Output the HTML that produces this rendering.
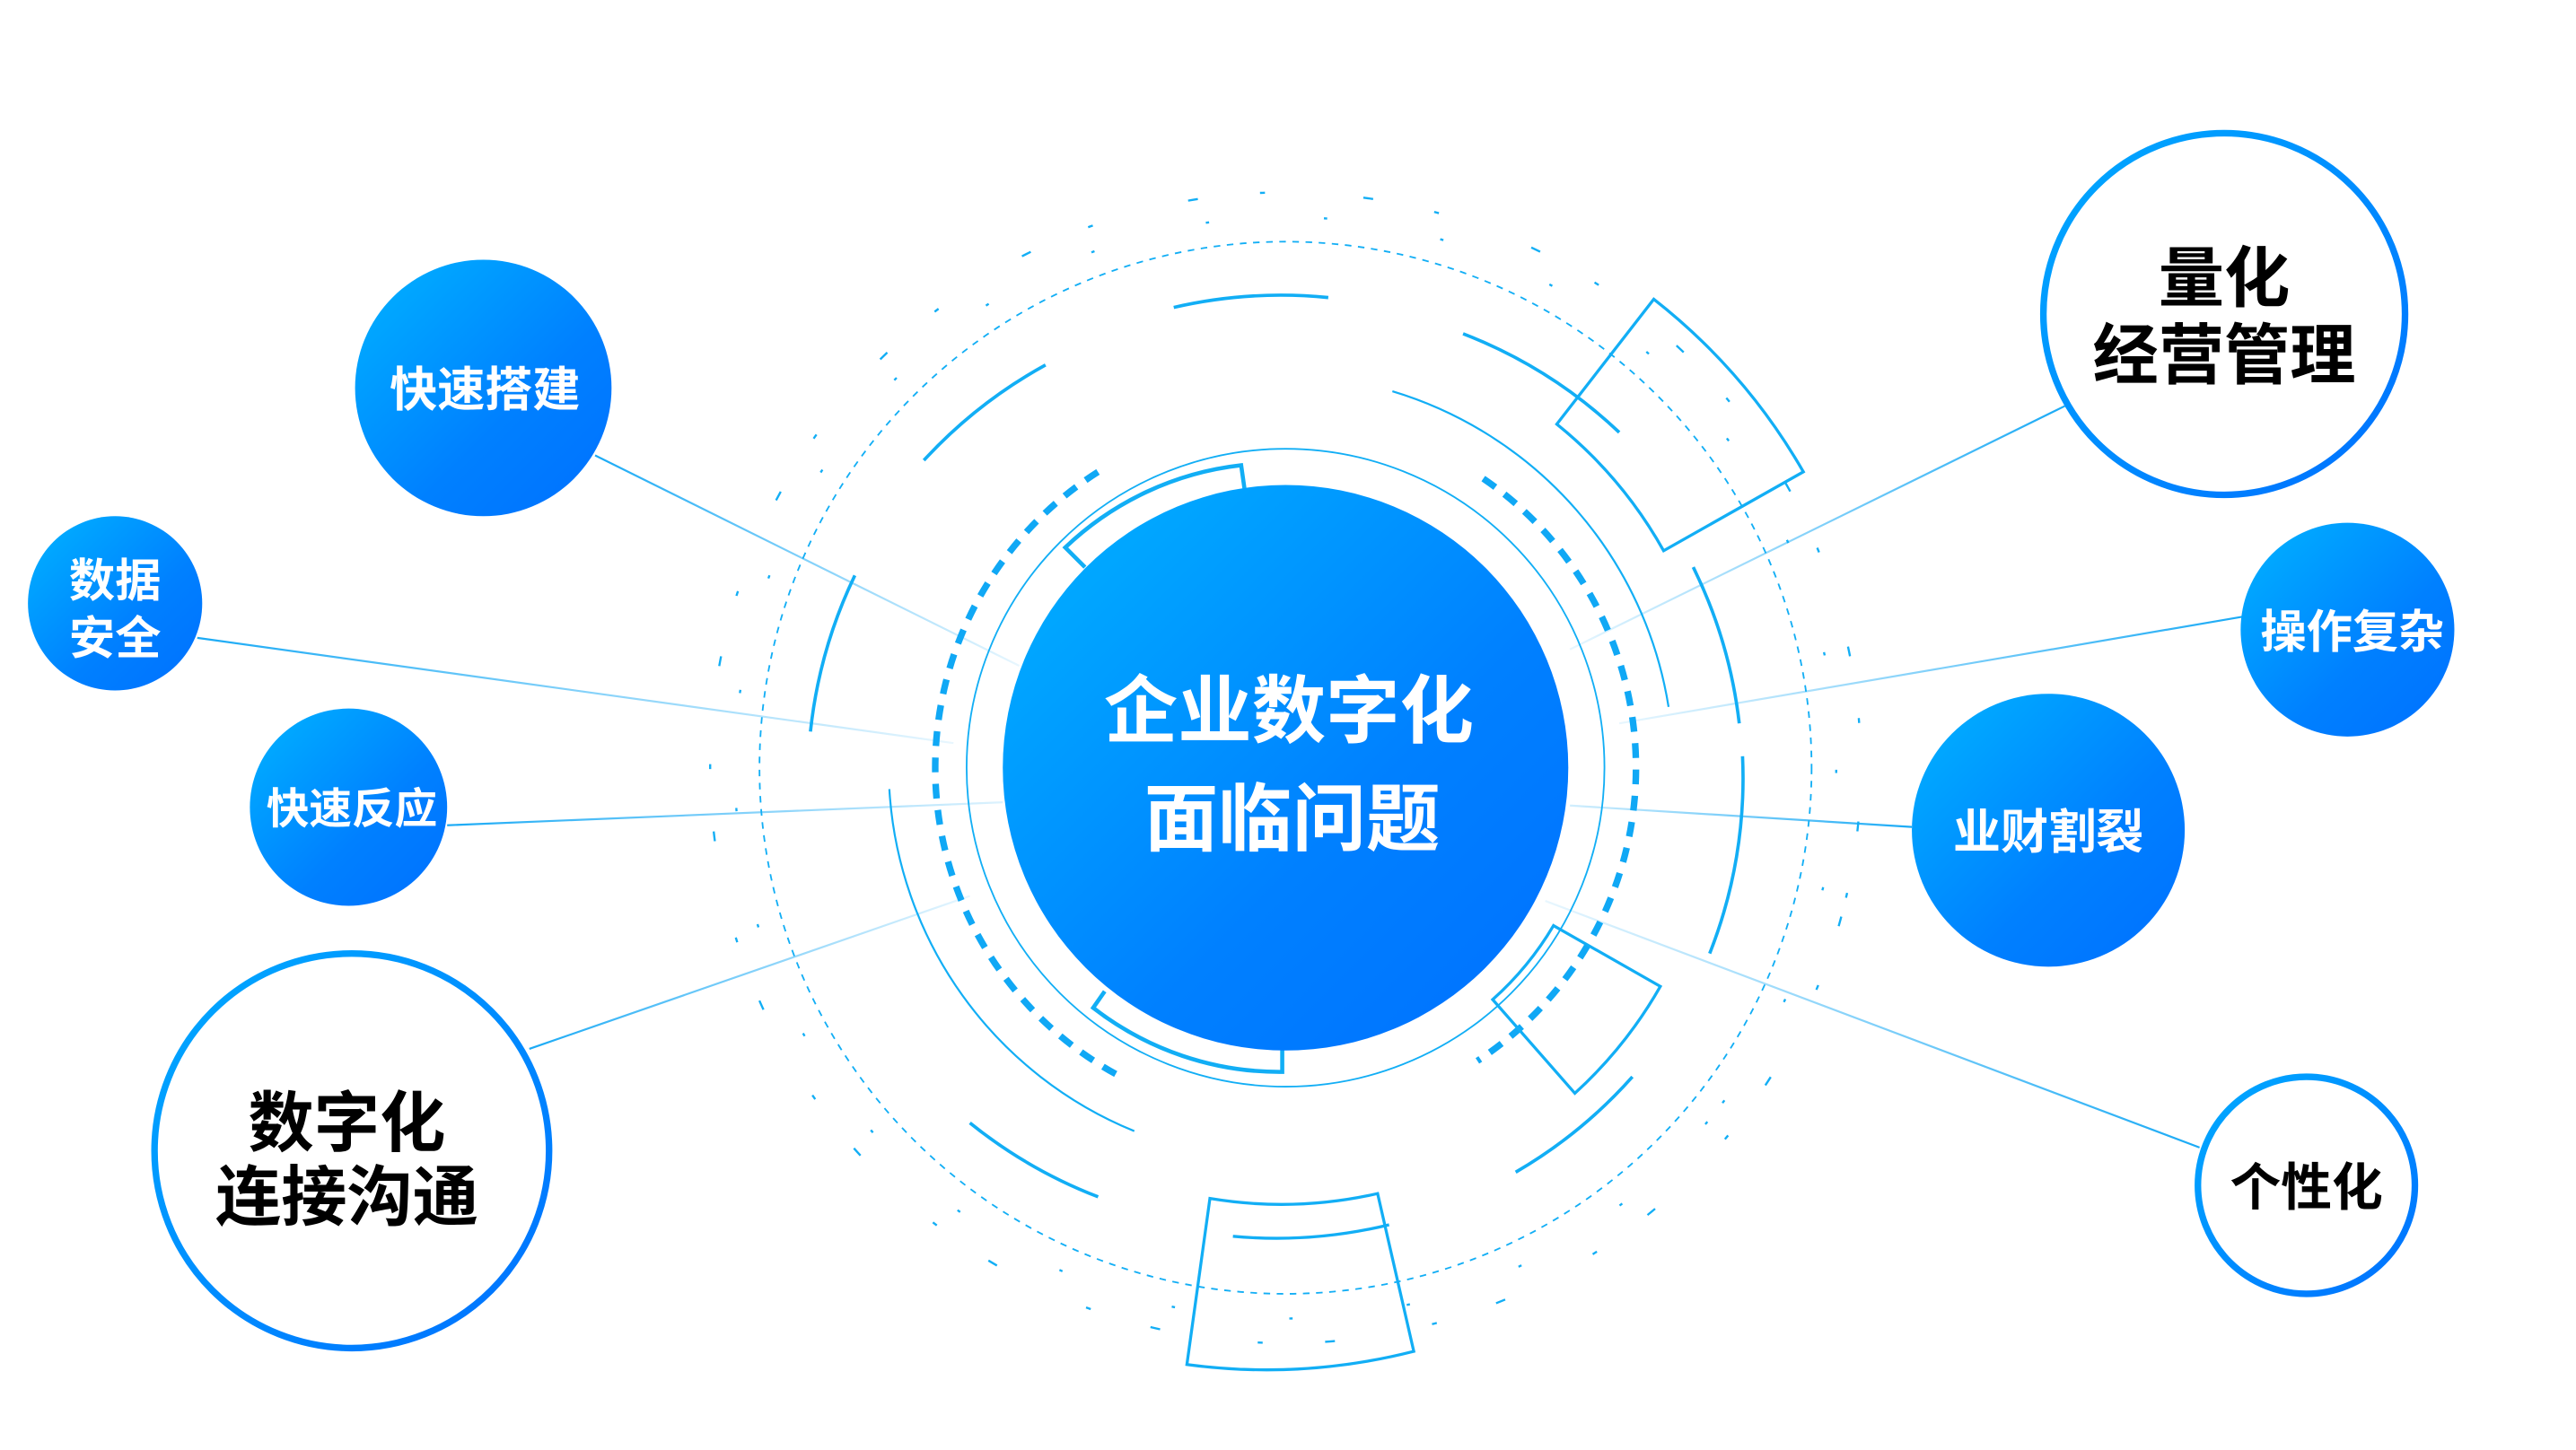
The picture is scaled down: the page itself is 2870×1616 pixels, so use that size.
<!DOCTYPE html>
<html><head><meta charset="utf-8"><style>
html,body{margin:0;padding:0;background:#fff;width:2870px;height:1616px;overflow:hidden;}
svg{display:block;}
text{font-family:"Liberation Sans","Noto Sans CJK SC",sans-serif;font-weight:bold;text-anchor:middle;}
</style></head><body>
<svg width="2870" height="1616" viewBox="0 0 1567 882" preserveAspectRatio="none" xmlns="http://www.w3.org/2000/svg">
<defs>
<linearGradient id="g" x1="0" y1="0" x2="1" y2="1"><stop offset="0" stop-color="#00b4ff"/><stop offset="0.6" stop-color="#0080ff"/><stop offset="1" stop-color="#0070ff"/></linearGradient>
<linearGradient id="gs" x1="0" y1="0" x2="1" y2="1"><stop offset="0" stop-color="#00aaff"/><stop offset="1" stop-color="#0070ff"/></linearGradient>
<linearGradient id="l1" gradientUnits="userSpaceOnUse" x1="362" y1="277" x2="620" y2="405"><stop offset="0" stop-color="#1aaaf5"/><stop offset="1" stop-color="#1aaaf5" stop-opacity="0.1"/></linearGradient>
<linearGradient id="l2" gradientUnits="userSpaceOnUse" x1="120" y1="388" x2="580" y2="452"><stop offset="0" stop-color="#1aaaf5"/><stop offset="1" stop-color="#1aaaf5" stop-opacity="0.1"/></linearGradient>
<linearGradient id="l3" gradientUnits="userSpaceOnUse" x1="272" y1="502" x2="610" y2="488"><stop offset="0" stop-color="#1aaaf5"/><stop offset="1" stop-color="#1aaaf5" stop-opacity="0.15"/></linearGradient>
<linearGradient id="l4" gradientUnits="userSpaceOnUse" x1="322" y1="638" x2="590" y2="545"><stop offset="0" stop-color="#1aaaf5"/><stop offset="1" stop-color="#1aaaf5" stop-opacity="0.1"/></linearGradient>
<linearGradient id="r1" gradientUnits="userSpaceOnUse" x1="1256" y1="247" x2="955" y2="395"><stop offset="0" stop-color="#1aaaf5"/><stop offset="1" stop-color="#1aaaf5" stop-opacity="0.1"/></linearGradient>
<linearGradient id="r2" gradientUnits="userSpaceOnUse" x1="1365" y1="375" x2="985" y2="440"><stop offset="0" stop-color="#1aaaf5"/><stop offset="1" stop-color="#1aaaf5" stop-opacity="0.1"/></linearGradient>
<linearGradient id="r3" gradientUnits="userSpaceOnUse" x1="1163" y1="503" x2="955" y2="490"><stop offset="0" stop-color="#1aaaf5"/><stop offset="1" stop-color="#1aaaf5" stop-opacity="0.2"/></linearGradient>
<linearGradient id="r4" gradientUnits="userSpaceOnUse" x1="1338" y1="698" x2="940" y2="548"><stop offset="0" stop-color="#1aaaf5"/><stop offset="1" stop-color="#1aaaf5" stop-opacity="0.1"/></linearGradient>
</defs>

<g stroke-width="1.2" fill="none">
<line x1="362" y1="277" x2="620" y2="405" stroke="url(#l1)"/>
<line x1="120" y1="388" x2="580" y2="452" stroke="url(#l2)"/>
<line x1="272" y1="502" x2="610" y2="488" stroke="url(#l3)"/>
<line x1="322" y1="638" x2="590" y2="545" stroke="url(#l4)"/>
<line x1="1256" y1="247" x2="955" y2="395" stroke="url(#r1)"/>
<line x1="1365" y1="375" x2="985" y2="440" stroke="url(#r2)"/>
<line x1="1163" y1="503" x2="955" y2="490" stroke="url(#r3)"/>
<line x1="1338" y1="698" x2="940" y2="548" stroke="url(#r4)"/>
</g>

<g fill="none" stroke="#12aef5">
<circle cx="782" cy="467" r="320" stroke-width="1" stroke-dasharray="4 4"/>
<circle cx="782" cy="467" r="350" stroke-width="1.3" stroke-dasharray="6 38 3 60" transform="rotate(15 782 467)"/>
<circle cx="782" cy="467" r="335" stroke-width="1.3" stroke-dasharray="2 70" transform="rotate(40 782 467)"/>
<circle cx="782" cy="467" r="194" stroke-width="1"/>
<g stroke-width="4" stroke-dasharray="9 7" stroke="#10a8f5">
<path d="M678.7,653.3 A213 213 0 0 1 670.4,285.5"/>
<path d="M902.3,291.1 A213 213 0 0 1 898.7,645.3"/>
</g>
<g stroke-width="2">
<path d="M714,187 A290 290 0 0 1 808,181"/>
<path d="M562,280 A290 290 0 0 1 636,222"/>
<path d="M493,445 A290 290 0 0 1 520,350"/>
<path d="M890,203 A290 290 0 0 1 985,263"/>
<path d="M1030,345 A290 290 0 0 1 1058,440"/>
<path d="M1060,460 A290 290 0 0 1 1040,580"/>
<path d="M668,728 A290 290 0 0 1 590,683"/>
<path d="M993,655 A290 290 0 0 1 922,713"/>
</g>
<g stroke-width="1.2">
<path d="M847,238 A240 240 0 0 1 1015,430"/>
<path d="M690,688 A240 240 0 0 1 541,480"/>
</g>
<g stroke-width="2.5">
<path d="M660,345 L648,333 A185 185 0 0 1 755,283 L757,297"/>
<path d="M672,603 L665,613 A185 185 0 0 0 780,652 L780,638"/>
</g>
<g stroke-width="1.8">
<path d="M947,258 L1006,182 A363 363 0 0 1 1097,287 L1012,335 A265 265 0 0 0 947,258 Z"/>
<path d="M945,563 L1010,600 A265 265 0 0 1 958,665 L908,608 A189 189 0 0 0 945,563 Z"/>
<path d="M838,726 L860,822 A365 365 0 0 1 722,830 L736,729 A265 265 0 0 0 838,726 Z"/>
<path d="M750,752 A290 290 0 0 0 845,745"/>
</g>
</g>

<circle cx="782" cy="467" r="172" fill="url(#g)"/>
<text x="784" y="448" font-size="45" fill="#fff" font-weight="normal">企业数字化</text>
<text x="786" y="514" font-size="45" fill="#fff" font-weight="normal">面临问题</text>

<circle cx="294" cy="236" r="78" fill="url(#g)"/>
<text x="295" y="247" font-size="29" fill="#fff">快速搭建</text>
<circle cx="70" cy="367" r="53" fill="url(#g)"/>
<text x="70" y="363" font-size="28" fill="#fff">数据</text>
<text x="70" y="398" font-size="28" fill="#fff">安全</text>
<circle cx="212" cy="491" r="60" fill="url(#g)"/>
<text x="214" y="501" font-size="26" fill="#fff">快速反应</text>
<circle cx="1428" cy="383" r="65" fill="url(#g)"/>
<text x="1431" y="394" font-size="28" fill="#fff">操作复杂</text>
<circle cx="1246" cy="505" r="83" fill="url(#g)"/>
<text x="1246" y="516" font-size="29" fill="#fff">业财割裂</text>

<circle cx="214" cy="700" r="120" fill="#fff" stroke="url(#gs)" stroke-width="4"/>
<text x="211" y="697" font-size="40" fill="#000">数字化</text>
<text x="211" y="742" font-size="40" fill="#000">连接沟通</text>
<circle cx="1353" cy="191" r="110" fill="#fff" stroke="url(#gs)" stroke-width="4"/>
<text x="1353" y="183" font-size="40" fill="#000">量化</text>
<text x="1353" y="230" font-size="40" fill="#000">经营管理</text>
<circle cx="1403" cy="721" r="66" fill="#fff" stroke="url(#gs)" stroke-width="4"/>
<text x="1403" y="733" font-size="31" fill="#000">个性化</text>
</svg>
</body></html>
